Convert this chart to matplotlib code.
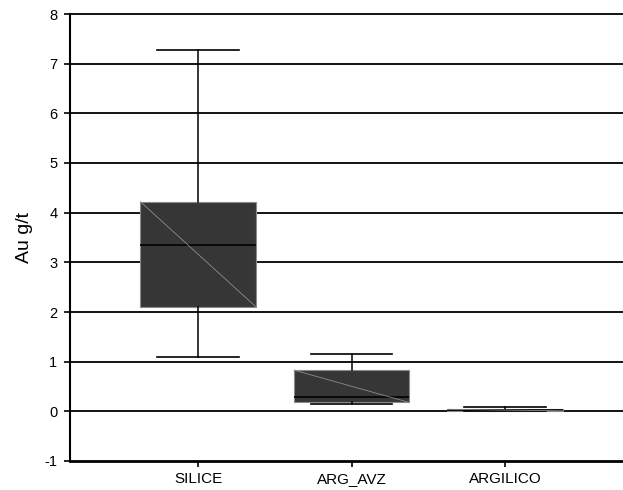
import matplotlib
matplotlib.use("Agg")
import matplotlib.pyplot as plt

plt.rcParams['font.family'] = ['Liberation Sans', 'DejaVu Sans']

categories = ["SILICE", "ARG_AVZ", "ARGILICO"]
whisker_low = [1.10, 0.15, 0.01]
q1 = [2.11, 0.18, 0.01]
median = [3.35, 0.29, 0.02]
q3 = [4.22, 0.83, 0.04]
whisker_high = [7.27, 1.15, 0.09]
y_ticks = [-1, 0, 1, 2, 3, 4, 5, 6, 7, 8]

fig = plt.figure(figsize=(6.23, 4.90), dpi=100)
ax = fig.add_axes([70 / 623, 1 - 461 / 490, 553 / 623, 447 / 490])

positions = [1, 2, 3]
stats = []
for i, name in enumerate(categories):
    stats.append(dict(label=name, whislo=whisker_low[i], q1=q1[i], med=median[i],
                      q3=q3[i], whishi=whisker_high[i], fliers=[]))

box_w = 0.75
bp = ax.bxp(stats, positions=positions, widths=box_w, patch_artist=True,
            showfliers=False, capwidths=0.53,
            boxprops=dict(facecolor='#363636', edgecolor='#8a8a8a', linewidth=0.8),
            medianprops=dict(color='black', linewidth=1.2),
            whiskerprops=dict(color='black', linewidth=1.1),
            capprops=dict(color='black', linewidth=1.2), zorder=3)

# diagonal stroke across each box, top-left to bottom-right
for p, lo, hi in zip(positions, q1, q3):
    ax.plot([p - box_w / 2, p + box_w / 2], [hi, lo], color='#8c8c8c',
            linewidth=0.6, zorder=4)

for y in y_ticks[1:]:
    ax.axhline(y, color='black', linewidth=1.3, zorder=1, clip_on=False)

ax.set_ylim(-1, 8)
ax.set_xlim(1 - 128 / 153.5, 1 - 128 / 153.5 + 553 / 153.5)
ax.set_yticks(y_ticks)
ax.set_yticklabels([str(t) for t in y_ticks])
ax.set_xticks(positions)
ax.set_xticklabels(categories)

for s in ['top', 'right']:
    ax.spines[s].set_visible(False)
ax.spines['left'].set_linewidth(1.5)
ax.spines['bottom'].set_linewidth(2.0)
ax.tick_params(axis='both', direction='out', length=4, width=1.2, colors='black')
ax.tick_params(axis='y', labelsize=10.5, pad=5)
ax.tick_params(axis='x', labelsize=11, pad=4)
ax.set_ylabel("Au g/t", fontsize=14, labelpad=8)

fig.savefig("out.png", dpi=100)
